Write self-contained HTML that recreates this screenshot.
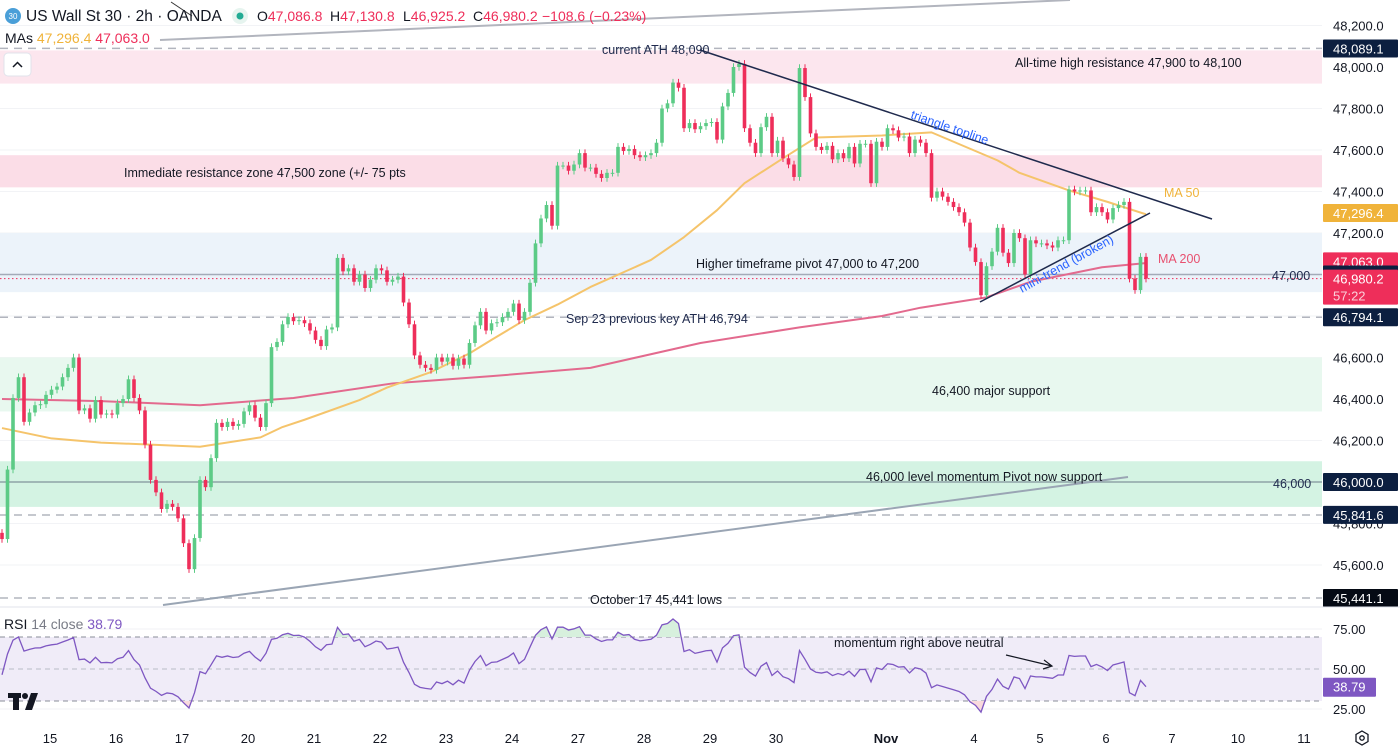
<!DOCTYPE html>
<html><head><meta charset="utf-8"><style>
html,body{margin:0;padding:0;background:#fff;width:1400px;height:749px;overflow:hidden}
svg text{font-family:"Liberation Sans",sans-serif}
</style></head><body>
<svg id="c" width="1400" height="749" viewBox="0 0 1400 749" xmlns="http://www.w3.org/2000/svg">
<g id="bg"></g><g id="marks"></g><g id="over"></g>
</svg>
<script>
// ---- data ----
const closes = [45725,46060,46405,46505,46290,46335,46370,46375,46420,46445,46460,46505,46550,46600,46345,46355,46305,46395,46325,46330,46325,46380,46400,46495,46405,46345,46180,46010,45950,45870,45895,45880,45825,45705,45580,45730,46010,45975,46115,46285,46265,46290,46270,46280,46340,46370,46310,46265,46380,46650,46675,46760,46795,46775,46780,
46765,46730,46685,46655,46735,46745,47080,47015,47030,46965,47000,46935,46975,47030,47020,46965,46975,46990,46865,46760,46610,46565,46550,46540,46600,46580,46600,46560,46595,46565,46670,46755,46820,46730,46765,46770,46795,46820,46860,46780,46820,46960,47150,47270,47335,47235,
47525,47525,47500,47530,47585,
47515,47515,47485,47465,47490,47490,47615,47595,47605,47575,47565,47575,47585,47635,47800,47825,47925,47900,47705,47730,47700,47715,47730,47735,47650,47810,47875,48000,48015,47705,47635,47585,47710,47760,47585,47645,47560,47530,47470,47995,47855,47680,47615,47600,47620,47555,47585,47560,47615,47535,47630,47630,47440,47640,47615,47705,47695,47660,47665,47585,47650,47635,47585,
47370,47400,47375,47350,47325,47300,47250,47130,47060,46900,47040,47110,47225,47105,47055,47200,47175,47000,47165,47150,47150,47140,47130,47165,47165,47410,47400,47405,47405,47300,47325,47300,47265,47320,47335,47350,46980,46925,47085,46980];
const firstOpen = 45755;
const ma50Idx = [0,9,18,27,36,47,51,55,65,70,78,85,89,95,101,107,118,124,130,135,142,148,154,160,169,181,185,194,201,208];
const ma50Val = [46260,46210,46190,46180,46170,46215,46265,46300,46395,46455,46530,46620,46685,46780,46855,46940,47070,47180,47310,47440,47560,47660,47665,47670,47685,47550,47490,47405,47350,47290];
const ma200Idx = [0,18,36,53,71,89,107,127,145,160,167,179,187,200,208];
const ma200Val = [46400,46390,46370,46405,46475,46510,46550,46670,46745,46800,46840,46890,46965,47035,47055];
const priceTicks = [48200,48000,47800,47600,47400,47200,47000,46800,46600,46400,46200,46000,45800,45600];
const rsiTicks = [75,50,25];
const rsiSeedGain = 40, rsiSeedLoss = 44;
const dayLabels = ["15","16","17","20","21","22","23","24","27","28","29","30","Nov","4","5","6","7","10","11"];
const dayX = [50,116,182,248,314,380,446,512,578,644,710,776,886,974,1040,1106,1172,1238,1304];

// ---- scales ----
const PW = 1322;
const X = i => 2 + i*5.5;
const Y = p => 67 + (48000-p)*0.2075;
const RY = v => 669 - (v-50)*1.6;
const NS="http://www.w3.org/2000/svg";
function mk(tag, attrs, parent, txt){const e=document.createElementNS(NS,tag);for(const k in attrs)e.setAttribute(k,attrs[k]);if(txt!==undefined)e.textContent=txt;parent.appendChild(e);return e;}
const bg=document.getElementById('bg'), marks=document.getElementById('marks'), over=document.getElementById('over');

priceTicks.forEach(p=>{const l=mk('line',{x1:0,x2:PW,y1:Y(p),y2:Y(p),stroke:'#f2f3f6','stroke-width':1},bg);

});

function zone(p1,p2,fill,name){const r=mk('rect',{x:0,y:Y(p1),width:PW,height:Y(p2)-Y(p1),fill:fill},bg);

}
zone(48080,47920,'#fce6ee','ath-resistance-zone');
zone(47575,47420,'#fbdde7','immediate-resistance-zone');
zone(47200,46915,'#ecf3fa','pivot-zone');
zone(46600,46340,'#e8f8ef','major-support-zone');
zone(46100,45880,'#d4f3e3','momentum-pivot-zone');

function hline(p,dash,color,name,w){const l=mk('line',{x1:0,x2:PW,y1:Y(p),y2:Y(p),stroke:color,'stroke-width':w||1.5,'stroke-dasharray':dash},bg);

}
hline(48090,'8 6','#b2b5be','ath-level-line');
hline(46794,'8 6','#b2b5be','sep23-ath-line');
hline(45841,'8 6','#b2b5be','level-45841-line');
hline(45441,'8 6','#b2b5be','oct17-low-line');
hline(47000,'','#a3abb8','level-47000-line',1.5);
hline(46000,'','#8fa3a8','level-46000-line',1.5);
hline(46980,'1.5 2.5','#ee2e5a','current-price-line',1);

function tl(x1,y1,x2,y2,c,w,name){const l=mk('line',{x1,y1,x2,y2,stroke:c,'stroke-width':w},over);

}
tl(163,605,1128,477,'#9aa5b4',2,'rising-channel-line');
tl(160,40,1070,0,'#b2b5be',2,'upper-channel-line');
tl(171,2,192,16,'#333',1,'small-drawing-line');

function maLine(idx,val,color,name){const d=idx.map((i,k)=>(k?'L':'M')+X(i)+' '+Y(val[k])).join(' ');
const p=mk('path',{d,fill:'none',stroke:color,'stroke-width':2,'stroke-linejoin':'round'},marks);

}
maLine(ma200Idx,ma200Val,'#e36a8e','ma200-line');
maLine(ma50Idx,ma50Val,'#f5c46b','ma50-line');

for(let i=0;i<closes.length;i++){
  const o = i?closes[i-1]:firstOpen, c=closes[i];
  const up=c>=o, col=up?'#5ccb86':'#ee2e5a';
  const hi=Math.max(o,c)+18, lo=Math.min(o,c)-18;
  const w=mk('line',{x1:X(i),x2:X(i),y1:Y(hi),y2:Y(lo),stroke:col,'stroke-width':1},marks);
  
  
  const top=Y(Math.max(o,c)), h=Math.max(1,Y(Math.min(o,c))-top);
  const b=mk('rect',{x:X(i)-1.8,y:top,width:3.6,height:h,fill:col},marks);
  
  
}

tl(700,50,1212,219,'#1f2a4d',1.5,'triangle-topline');
tl(980,302,1150,213,'#1f2a4d',1.5,'mini-trend-line');

function txt(x,y,s,color,name,extra){const t=mk('text',Object.assign({x,y,'font-size':12.5,fill:color},extra||{}),over,s);

return t;}
txt(602,54,'current ATH 48,090','#1f2a4d','ath-label');
txt(1015,67,'All-time high resistance 47,900 to 48,100','#131722','ath-zone-label');
txt(124,177,'Immediate resistance zone 47,500 zone (+/- 75 pts','#131722','resistance-zone-label');
txt(696,268,'Higher timeframe pivot 47,000 to 47,200','#131722','pivot-zone-label');
txt(566,323,'Sep 23 previous key ATH 46,794','#1f2a4d','sep23-label');
txt(932,395,'46,400 major support','#131722','support-label');
txt(866,481,'46,000 level momentum Pivot now support','#131722','momentum-pivot-label');
txt(590,604,'October 17 45,441 lows','#131722','oct17-label');
txt(910,118,'triangle topline','#2962ff','triangle-label',{transform:'rotate(19 910 118)'});
txt(1022,293,'mini-trend (broken)','#2962ff','mini-trend-label',{transform:'rotate(-29 1022 293)'});
txt(1164,197,'MA 50','#f0b33a','ma50-label');
txt(1158,263,'MA 200','#e8506f','ma200-label');
txt(1272,280,'47,000','#1f2a4d','level-47000-label');
txt(1273,488,'46,000','#1f2a4d','level-46000-label');

const axisBg=mk('rect',{x:PW,y:0,width:78,height:749,fill:'#fff'},over);


priceTicks.forEach(p=>{const t=mk('text',{x:1333,y:Y(p)+5,'font-size':13,fill:'#131722'},over,p.toLocaleString('en-US')+'.0');

});
function badge(p,label,fill,name,h){const y=Y(p);const hh=h||18;
const r=mk('rect',{x:1323,y:y-9,width:75,height:hh,fill:fill,rx:1},over);


const t=mk('text',{x:1333,y:y+5,'font-size':13,fill:'#fff'},over,label);

}
badge(48089.1,'48,089.1','#0c1f40','ath-badge');
badge(47296.4,'47,296.4','#f0b33a','ma50-badge');
badge(47063,'47,063.0','#ee2e5a','ma200-badge');
badge(47000,'47,000.0','#0c1f40','level-47000-badge');
badge(46980.2,'46,980.2','#ee2e5a','last-price-badge',35);
(function(){const t=mk('text',{x:1333,y:Y(46980.2)+22,'font-size':13,fill:'#fbd0da'},over,'57:22');

})();
badge(46794.1,'46,794.1','#0c1f40','sep23-badge');
badge(46000,'46,000.0','#0c1f40','level-46000-badge');
badge(45841.6,'45,841.6','#0c1f40','level-45841-badge');
badge(45441.1,'45,441.1','#050a14','oct17-badge');

// ---- RSI pane ----
const sep=mk('line',{x1:0,x2:1400,y1:607,y2:607,stroke:'#e0e3eb','stroke-width':1},over);


const rsiBand=mk('rect',{x:0,y:RY(70),width:PW,height:RY(30)-RY(70),fill:'#f0ecf8'},over);


[75,25].forEach(v=>{const l=mk('line',{x1:0,x2:PW,y1:RY(v),y2:RY(v),stroke:'#f0f1f4'},over);

});
[70,50,30].forEach(v=>{const l=mk('line',{x1:0,x2:PW,y1:RY(v),y2:RY(v),stroke:v===50?'#b9bcc6':'#8a8e99','stroke-dasharray':'5 4'},over);

});
const rsi=[];let ag=rsiSeedGain,al=rsiSeedLoss;
for(let i=0;i<closes.length;i++){
  const prev=i?closes[i-1]:firstOpen;const d=closes[i]-prev;const g=Math.max(d,0),l=Math.max(-d,0);
  ag=(ag*13+g)/14;al=(al*13+l)/14;
  rsi.push(al===0?100:100-100/(1+ag/al));
}
const rd=rsi.map((v,i)=>(i?'L':'M')+X(i)+' '+RY(v)).join(' ');
const defs=mk('defs',{},over);
const cp1=mk('clipPath',{id:'ob'},defs);mk('rect',{x:0,y:608,width:PW,height:RY(70)-608},cp1);
const cp2=mk('clipPath',{id:'os'},defs);mk('rect',{x:0,y:RY(30),width:PW,height:25},cp2);
const obf=mk('path',{d:rd+' L'+X(rsi.length-1)+' '+RY(70)+' L'+X(0)+' '+RY(70)+' Z',fill:'#d7f0dd','clip-path':'url(#ob)'},over);


const osf=mk('path',{d:rd+' L'+X(rsi.length-1)+' '+RY(30)+' L'+X(0)+' '+RY(30)+' Z',fill:'#f9dadd','clip-path':'url(#os)'},over);


const rl=mk('path',{d:rd,fill:'none',stroke:'#7e57c2','stroke-width':1.3},over);


rsiTicks.forEach(v=>{const t=mk('text',{x:1333,y:RY(v)+5,'font-size':13,fill:'#131722'},over,v.toFixed(2));

});
(function(){const v=rsi[rsi.length-1];
const r=mk('rect',{x:1323,y:RY(v)-9,width:53,height:19,fill:'#7e57c2',rx:1},over);


const t=mk('text',{x:1333,y:RY(v)+5,'font-size':13,fill:'#fff'},over,'38.79');

})();
txt(834,647,'momentum right above neutral','#131722','rsi-annotation');
(function(){const a=mk('path',{d:'M1006 655 L1052 666 M1044 660 L1052 666 L1043 669',fill:'none',stroke:'#131722','stroke-width':1.2},over);

})();

dayLabels.forEach((s,k)=>{const t=mk('text',{x:dayX[k],y:743,'font-size':13,fill:'#131722','text-anchor':'middle','font-weight':s==='Nov'?'bold':'normal'},over,s);

});
</script>
<svg style="position:absolute;left:0;top:0" width="1400" height="749" xmlns="http://www.w3.org/2000/svg">
<g font-family="Liberation Sans, sans-serif">
<circle cx="13" cy="16" r="8" fill="#4a9fd8"/>
<text x="13" y="19" font-size="8" fill="#fff" text-anchor="middle">30</text>
<text x="26" y="21" font-size="15.5" fill="#131722">US Wall St 30 · 2h · OANDA</text>
<circle cx="240" cy="16" r="8" fill="#e6f4ef"/>
<circle cx="240" cy="16" r="3.5" fill="#22ab94"/>
<text x="257" y="21" font-size="14" fill="#131722">O<tspan fill="#ee2e5a">47,086.8</tspan></text>
<text x="330" y="21" font-size="14" fill="#131722">H<tspan fill="#ee2e5a">47,130.8</tspan></text>
<text x="403" y="21" font-size="14" fill="#131722">L<tspan fill="#ee2e5a">46,925.2</tspan></text>
<text x="473" y="21" font-size="14" fill="#131722">C<tspan fill="#ee2e5a">46,980.2</tspan></text>
<text x="542" y="21" font-size="14" fill="#ee2e5a">−108.6 (−0.23%)</text>
<text x="5" y="43" font-size="14" fill="#131722">MAs <tspan fill="#f0b33a">47,296.4</tspan> <tspan fill="#ee2e5a">47,063.0</tspan></text>
<rect x="4" y="53" width="27" height="23" rx="4" fill="#fff" stroke="#e0e3eb"/>
<path d="M13 67 L17.5 62.5 L22 67" fill="none" stroke="#131722" stroke-width="1.5"/>
<text x="4" y="629" font-size="14" fill="#131722">RSI <tspan fill="#787b86">14 close</tspan> <tspan fill="#7e57c2">38.79</tspan></text>
<g fill="#131722">
<rect x="8" y="693" width="13" height="5"/><rect x="13" y="693" width="6" height="17"/>
<circle cx="25" cy="696" r="3"/><path d="M31 693 L38 693 L32 710 L25 710 Z"/>
</g>
<g fill="none" stroke="#131722" stroke-width="1.3">
<path d="M1362 731 L1368 734.5 L1368 741.5 L1362 745 L1356 741.5 L1356 734.5 Z"/><circle cx="1362" cy="738" r="2.2"/>
</g>
</g>
</svg>
</body></html>
